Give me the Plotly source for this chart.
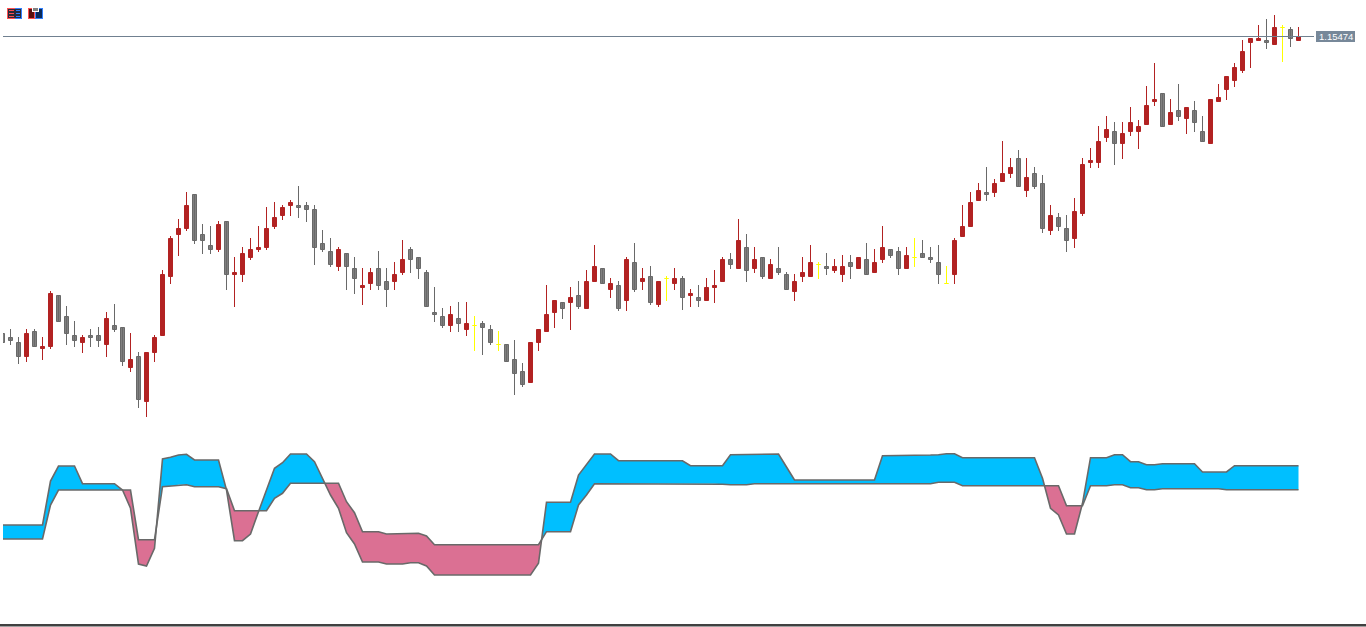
import plotly.graph_objects as go

# Price series, in points above BASE_PRICE
BASE_PRICE = 1.131565
POINT = 0.00005
LAST_PRICE = 1.15474
LAST_LABEL = "1.15474"

open_pts = [
    167,163,158,143,169,151,153,205,184,165,
    157,165,165,155,175,173,132,144,98,147,
    164,223,265,271,306,266,255,250,279,225,
    225,242,250,252,273,284,294,295,295,291,
    257,249,233,247,232,212,216,232,219,218,
    227,251,243,228,188,184,174,182,170,175,
    177,171,156,156,141,129,117,157,168,187,
    198,197,205,191,218,232,210,215,199,238,
    218,224,195,222,216,222,204,203,199,212,
    218,241,231,253,231,243,221,232,226,208,
    223,223,236,234,229,225,238,231,241,227,
    240,251,249,231,243,247,243,238,217,225,
    263,273,299,308,307,318,326,342,309,327,
    317,269,283,272,261,286,337,337,362,369,
    356,368,368,375,398,407,375,390,381,390,
    369,356,398,410,419,429,457,459,460,455,
    473,471,459]
high_pts = [
    169,171,163,171,171,163,209,205,194,179,
    165,171,173,188,196,173,167,148,148,165,
    230,264,281,308,306,276,274,279,279,243,
    253,262,274,293,298,295,300,314,298,295,
    270,262,253,247,243,232,232,249,232,238,
    260,253,243,230,213,192,194,198,198,184,
    179,175,169,156,160,137,158,171,215,200,
    198,213,219,230,255,232,222,219,243,257,
    232,234,219,224,232,224,211,215,222,230,
    243,247,281,266,253,243,241,253,228,226,
    243,255,238,247,241,245,245,243,257,251,
    274,251,253,253,262,260,253,255,234,262,
    295,308,317,333,321,359,342,350,342,333,
    325,295,287,285,302,342,352,374,384,378,
    378,393,380,414,437,407,401,416,393,399,
    384,401,416,424,437,460,462,475,481,485,
    475,473,473]
low_pts = [
    155,155,136,138,153,140,151,178,155,153,
    147,153,153,143,168,134,128,92,83,138,
    164,216,244,269,256,246,246,248,210,193,
    218,240,248,250,271,280,284,282,278,235,
    248,233,229,210,206,195,210,210,193,210,
    225,227,221,193,178,172,168,168,164,149,
    145,155,149,138,105,113,117,149,168,172,
    181,170,191,191,218,216,202,189,189,208,
    210,195,193,199,210,190,193,193,199,197,
    218,231,231,218,227,221,221,225,210,199,
    218,223,221,225,227,218,221,231,225,227,
    237,242,225,231,233,242,237,216,217,216,
    263,273,299,299,303,318,322,313,303,311,
    267,265,269,248,252,284,332,332,358,335,
    341,364,351,375,394,373,375,379,366,368,
    358,356,398,400,413,427,432,459,451,455,
    438,453,459]
close_pts = [
    157,159,143,167,153,154,207,178,166,159,
    163,162,159,182,170,138,141,100,148,163,
    226,262,272,295,259,259,250,276,225,228,
    247,251,253,272,283,293,298,292,290,252,
    250,235,251,233,221,215,228,214,210,226,
    241,240,231,193,185,174,186,176,177,175,
    172,157,156,138,126,115,158,171,186,200,
    191,203,193,219,234,216,217,191,241,210,
    222,197,219,222,222,202,207,199,213,215,
    241,235,260,229,241,223,236,227,210,219,
    228,238,236,231,234,234,233,243,225,238,
    253,244,231,245,243,242,240,225,217,260,
    274,298,310,305,317,327,333,313,323,313,
    271,285,273,259,289,336,340,359,371,356,
    367,378,374,395,401,373,388,383,393,377,
    358,401,403,424,433,449,462,462,457,473,
    473,461,464]

# Indicator lines
fast_line = [
    75,75,75,75,75,75,119,134,134,134,
    116.3,116.3,116.3,116.3,116.3,110,91.7,36,34,51.7,
    141,142.7,145,145.7,140,140,140,140,110,59.3,
    59.3,66,88.3,110,131.7,137.3,146,146,146,138.3,
    121.7,105,91.7,67.3,56,38,38,38,36,36,
    36,37.3,37.3,34,25,25,25,25,25,25,
    25,25,25,25,25,25,25,36.7,97.7,97.7,
    97.7,97.7,125,135,146,146,146,139.3,139.3,139.3,
    139.3,139.3,139.3,139.3,139.3,139.3,134.3,134.3,134.3,134.3,
    134.3,145.3,145.3,146,146,146,146,146,133,120,
    120,120,120,120,120,120,120,120,120,120,
    144.3,144.3,144.3,144.3,144.3,144.3,145,145.3,146.3,146.3,
    142.3,142.3,142.3,142.3,142.3,142.3,142.3,142.3,142.3,142.3,
    121.7,91.7,85,66,66,96.7,142.3,142.3,142.3,145.3,
    145.3,138.3,138.3,135.3,135.3,136.3,136.3,136.3,136.3,136.3,
    128,128,128,128,134.3,134.3,134.3,134.3,134.3,134.3,
    134.3,134.3,134.3]
slow_line = [
    61,61,61,61,61,61,95,110,110,110,
    110,110,110,110,110,110,110,60.3,60.3,60.3,
    113.3,114,115.3,115.3,113.3,113.3,113.3,113.3,111.3,89.3,
    89.3,89.3,89.3,89.3,101.7,106.7,116.7,116.7,116.7,116.7,
    116.7,116.7,116.7,98.3,87.3,68.3,68.3,68.3,66,66,
    66,66.7,66.7,64,55.3,55.3,55.3,55.3,55.3,55.3,
    55.3,55.3,55.3,55.3,55.3,55.3,55.3,55.3,68.3,68.3,
    68.3,68.3,95,105,116.3,116.3,116.3,116.3,116.3,116.3,
    116.3,116.3,116.3,116.3,116.3,116.3,116.3,116.3,116.3,116.3,
    115.7,115.3,115.3,115.3,116.3,116.3,116.3,116.3,116.3,116.3,
    116.3,116.3,116.3,116.3,116.3,116.3,116.3,116.3,116.3,116.3,
    116.3,116.3,116.3,116.3,116.3,116.3,116.3,117.7,117.7,117.7,
    114.3,114.3,114.3,114.3,114.3,114.3,114.3,114.3,114.3,114.3,
    114.3,114.3,114.3,94.3,94.3,94.3,114.3,114.3,114.3,115.3,
    115.3,112.3,112.3,110.3,110.3,111.3,111.3,111.3,111.3,111.3,
    111.3,111.3,111.3,110.3,110.3,110.3,110.3,110.3,110.3,110.3,
    110.3,110.3,110.3]

UP_COLOR = "#B22222"
DOWN_FILL = "#808080"
DOWN_EDGE = "#696969"
DOJI_COLOR = "#FFFF00"
BULL_FILL = "#00BFFF"
BEAR_FILL = "#DB7093"
LINE_COLOR = "#696969"
TAG_COLOR = "#778899"
LEVEL_COLOR = "#708090"
W, H = 1366, 627
LEFT = 3
BODY_INSET = 1  # the outline sits on the body edge


def price(p):
    return BASE_PRICE + p * POINT


bars = list(range(len(open_pts)))
groups = {
    "up": ([i for i in bars if close_pts[i] > open_pts[i]], UP_COLOR, UP_COLOR),
    "down": ([i for i in bars if close_pts[i] < open_pts[i]], DOWN_FILL, DOWN_EDGE),
    "doji": ([i for i in bars if close_pts[i] == open_pts[i]], DOJI_COLOR, DOJI_COLOR),
}

fig = go.Figure()

for name, (idx, fill, edge) in groups.items():
    wx, wy = [], []
    for i in idx:
        wx += [i, i, None]
        wy += [price(low_pts[i]), price(high_pts[i]), None]
    fig.add_trace(go.Scatter(x=wx, y=wy, mode="lines", line=dict(color=edge, width=1),
                             hoverinfo="skip", showlegend=False))
    doji = name == "doji"
    fig.add_trace(go.Bar(
        x=idx,
        base=[price(min(open_pts[i], close_pts[i]) - (BODY_INSET if doji else 0)) for i in idx],
        y=[0 if doji else (abs(close_pts[i] - open_pts[i]) - BODY_INSET) * POINT for i in idx],
        width=0.5,
        marker=dict(color=fill, line=dict(color=edge, width=1)),
        hoverinfo="skip", showlegend=False))

# Ribbon between the two indicator lines
pts = []
for i in bars:
    a, b = fast_line[i], slow_line[i]
    pts.append((i, a, b))
    if i + 1 < len(bars):
        d0, d1 = a - b, fast_line[i + 1] - slow_line[i + 1]
        if d0 * d1 < 0:
            t = d0 / (d0 - d1)
            yc = a + t * (fast_line[i + 1] - a)
            pts.append((i + t, yc, yc))
runs, cur = [], [pts[0]]
for p in pts[1:]:
    cur.append(p)
    if p[1] == p[2]:
        runs.append(cur)
        cur = [p]
if len(cur) > 1:
    runs.append(cur)
poly = {BULL_FILL: ([], []), BEAR_FILL: ([], [])}
for r in runs:
    colour = BULL_FILL if sum(q[1] - q[2] for q in r) > 0 else BEAR_FILL
    px, py = poly[colour]
    px += [q[0] for q in r] + [q[0] for q in reversed(r)] + [None]
    py += [q[1] for q in r] + [q[2] for q in reversed(r)] + [None]
for colour, (px, py) in poly.items():
    fig.add_trace(go.Scatter(x=px, y=py, yaxis="y2", mode="lines", fill="toself", fillcolor=colour,
                             line=dict(width=0), hoverinfo="skip", showlegend=False))
for series in (fast_line, slow_line):
    fig.add_trace(go.Scatter(x=bars, y=series, yaxis="y2", mode="lines",
                             line=dict(color=LINE_COLOR, width=1.6),
                             hoverinfo="skip", showlegend=False))


def fx(px):
    return (px - LEFT) / (W - LEFT)


def fy(py):
    return 1 - py / H


def rect(x0, y0, x1, y1, fill):
    return dict(type="rect", xref="paper", yref="paper", x0=fx(x0), x1=fx(x1), y0=fy(y0), y1=fy(y1),
                fillcolor=fill, line=dict(width=0), layer="above")


shapes = [
    dict(type="line", xref="paper", yref="y", x0=0, x1=fx(1314), y0=LAST_PRICE, y1=LAST_PRICE,
         line=dict(color=LEVEL_COLOR, width=1), layer="above"),
    rect(1316, 31, 1355, 42, TAG_COLOR),
    rect(0, 624, W, 626, "#404040"),
    rect(0, 626, W, 627, "#A0A0A0"),
    # toolbar icon 1
    rect(7, 8, 15, 19, "#FF5050"), rect(15, 8, 22, 19, "#3080FF"),
    rect(8, 9, 21, 18, "#2A2A3A"),
    rect(9, 10, 14, 11, "#FF5050"), rect(9, 13, 14, 14, "#FF5050"), rect(9, 16, 14, 17, "#FF5050"),
    rect(16, 10, 20, 11, "#3080FF"), rect(16, 13, 20, 14, "#3080FF"), rect(16, 16, 20, 17, "#3080FF"),
    # toolbar icon 2
    rect(28, 8, 35, 19, "#FF5050"), rect(35, 8, 43, 19, "#3080FF"),
    rect(29, 9, 34, 18, "#5A1010"), rect(36, 9, 42, 18, "#0A2A5A"),
    rect(32, 7, 39, 12, "#FFFFFF"), rect(33, 8, 38, 11, "#808080"),
]

fig.update_layout(
    width=W, height=H, autosize=False,
    margin=dict(l=LEFT, r=0, t=0, b=0, pad=0),
    paper_bgcolor="white", plot_bgcolor="white",
    barmode="overlay", bargap=0, bargroupgap=0,
    showlegend=False, hovermode=False,
    xaxis=dict(range=[(LEFT - 2.5) / 8, (W - 2.5) / 8], visible=False, fixedrange=True),
    yaxis=dict(range=[price(-127), price(500)], visible=False, fixedrange=True),
    yaxis2=dict(range=[-27, 600], visible=False, overlaying="y", fixedrange=True),
    shapes=shapes,
    annotations=[dict(xref="paper", yref="paper", x=fx(1335.5), y=fy(36.5), text=LAST_LABEL,
                      showarrow=False, font=dict(family="Liberation Sans", size=9.5, color="#FFFFFF"),
                      xanchor="center", yanchor="middle")],
)

fig.write_html("out.html", config=dict(displayModeBar=False),
               post_script="document.body.style.margin='0';document.body.style.overflow='hidden';")
